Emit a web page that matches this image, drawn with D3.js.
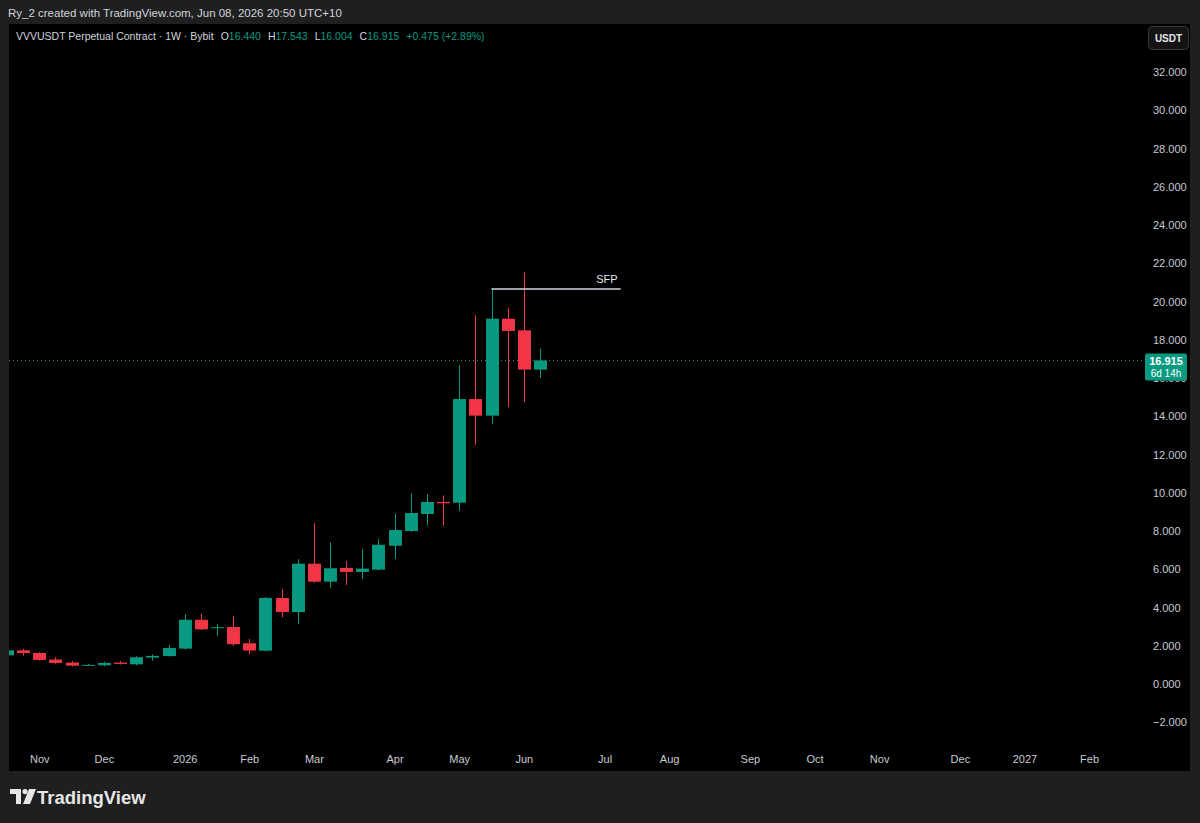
<!DOCTYPE html>
<html>
<head>
<meta charset="utf-8">
<script src="https://cdn.jsdelivr.net/npm/d3@7"></script>
<style>
  body { margin: 0; background: #1f1f1f; }
  svg { display: block; font-family: "Liberation Sans", "DejaVu Sans", sans-serif; }
</style>
</head>
<body>
<svg id="chart" width="1200" height="823"></svg>
<script>
// weekly candles, week start (Monday)
const weeks = [
  "2025-10-20", "2025-10-27", "2025-11-03", "2025-11-10", "2025-11-17", "2025-11-24",
  "2025-12-01", "2025-12-08", "2025-12-15", "2025-12-22", "2025-12-29", "2026-01-05",
  "2026-01-12", "2026-01-19", "2026-01-26", "2026-02-02", "2026-02-09", "2026-02-16",
  "2026-02-23", "2026-03-02", "2026-03-09", "2026-03-16", "2026-03-23", "2026-03-30",
  "2026-04-06", "2026-04-13", "2026-04-20", "2026-04-27", "2026-05-04", "2026-05-11",
  "2026-05-18", "2026-05-25", "2026-06-01", "2026-06-08"
];
const opens  = [1.50, 1.76, 1.62, 1.28, 1.12, 0.97, 0.98, 1.12, 1.03, 1.38, 1.46, 1.85,
                3.36, 2.92, 2.98, 2.13, 1.74, 4.50, 3.76, 6.29, 5.35, 6.07, 5.86, 5.98,
                7.23, 8.00, 8.89, 9.52, 9.48, 14.90, 14.03, 19.10, 18.49, 16.440];
const highs  = [1.85, 1.84, 1.66, 1.40, 1.19, 1.05, 1.17, 1.20, 1.45, 1.55, 2.04, 3.66,
                3.68, 3.14, 3.56, 2.35, 4.56, 4.95, 6.52, 8.40, 7.40, 6.43, 7.04, 7.58,
                8.89, 9.97, 9.93, 9.86, 16.68, 19.29, 20.65, 19.65, 21.54, 17.543];
const lows   = [1.45, 1.48, 1.22, 1.06, 0.92, 0.94, 0.92, 1.02, 0.98, 1.22, 1.44, 1.80,
                2.82, 2.52, 2.00, 1.54, 1.70, 3.49, 3.14, 5.30, 5.04, 5.18, 5.49, 5.95,
                6.54, 7.95, 8.31, 8.28, 9.06, 12.50, 13.60, 14.47, 14.73, 16.004];
const closes = [1.76, 1.62, 1.26, 1.10, 0.96, 1.00, 1.10, 1.05, 1.40, 1.47, 1.88, 3.36,
                2.86, 2.97, 2.08, 1.75, 4.50, 3.76, 6.29, 5.35, 6.05, 5.86, 6.03, 7.28,
                8.05, 8.94, 9.52, 9.45, 14.90, 14.03, 19.10, 18.46, 16.44, 16.915];

const priceTicks = [-2, 0, 2, 4, 6, 8, 10, 12, 14, 16, 18, 20, 22, 24, 26, 28, 30, 32];
const timeTickLabels = ["Nov", "Dec", "2026", "Feb", "Mar", "Apr", "May", "Jun", "Jul",
                        "Aug", "Sep", "Oct", "Nov", "Dec", "2027", "Feb"];
const timeTickDates  = ["2025-11-03", "2025-12-01", "2026-01-05", "2026-02-02", "2026-03-02",
                        "2026-04-06", "2026-05-04", "2026-06-01", "2026-07-06", "2026-08-03",
                        "2026-09-07", "2026-10-05", "2026-11-02", "2026-12-07", "2027-01-04",
                        "2027-02-01"];

const lastPrice = 16.915;
const sfpFrom = "2026-05-18", sfpTo = "2026-07-13", sfpLevel = 20.65;

const up = "#089981", down = "#f23645";
const parse = d3.timeParse("%Y-%m-%d");

const candles = weeks.map((w, i) => ({
  date: parse(w), o: opens[i], h: highs[i], l: lows[i], c: closes[i]
}));

const svg = d3.select("#chart");

// frame + panel
svg.append("rect").attr("width", 1200).attr("height", 823).attr("fill", "#1f1f1f");
svg.append("rect").attr("x", 9).attr("y", 24).attr("width", 1181).attr("height", 747).attr("fill", "#000");

const plot = { left: 9, right: 1145, top: 24, bottom: 771 };

// scales
const x = d3.scaleTime()
  .domain([parse("2025-11-03"), parse("2027-02-01")])
  .range([39.3, 39.3 + 65 * 16.15]);
const y = d3.scaleLinear().domain([0, 32]).range([684, 72]);

const barW = (x(parse("2026-01-12")) - x(parse("2026-01-05"))) * 0.8;

svg.append("clipPath").attr("id", "plotClip")
  .append("rect").attr("x", plot.left).attr("y", plot.top)
  .attr("width", plot.right - plot.left).attr("height", plot.bottom - plot.top);

const g = svg.append("g").attr("clip-path", "url(#plotClip)");

// last price dotted line
g.append("line")
  .attr("x1", plot.left).attr("x2", plot.right)
  .attr("y1", y(lastPrice)).attr("y2", y(lastPrice))
  .attr("stroke", up).attr("stroke-width", 1).attr("stroke-dasharray", "1,3");

// candles
const cg = g.selectAll("g.candle").data(candles).join("g").attr("class", "candle");
cg.append("line")
  .attr("x1", d => Math.round(x(d.date)) + 0.5).attr("x2", d => Math.round(x(d.date)) + 0.5)
  .attr("y1", d => y(d.h)).attr("y2", d => y(d.l))
  .attr("stroke", d => d.c >= d.o ? up : down).attr("stroke-width", 1);
cg.append("rect")
  .attr("x", d => Math.round(x(d.date)) + 0.5 - barW / 2)
  .attr("width", barW)
  .attr("y", d => y(Math.max(d.o, d.c)))
  .attr("height", d => Math.max(1, Math.abs(y(d.o) - y(d.c))))
  .attr("fill", d => d.c >= d.o ? up : down);

// SFP annotation
g.append("line")
  .attr("x1", x(parse(sfpFrom))).attr("x2", x(parse(sfpTo)))
  .attr("y1", y(sfpLevel)).attr("y2", y(sfpLevel))
  .attr("stroke", "#d1d4dc").attr("stroke-width", 1.5);
g.append("text")
  .attr("x", x(parse(sfpTo)) - 3).attr("y", y(sfpLevel) - 6)
  .attr("text-anchor", "end").attr("fill", "#e6e6e6")
  .style("font-size", "11px").text("SFP");

// price axis
const yAxis = d3.axisRight(y).tickValues(priceTicks).tickSize(0).tickPadding(0)
  .tickFormat(d3.format(".3f"));
const ya = svg.append("g").attr("transform", "translate(1153,0)").call(yAxis);
ya.select(".domain").remove();
ya.selectAll("text").attr("fill", "#c8cad0").style("font-size", "11px")
  .style("font-family", "Liberation Sans, sans-serif").attr("text-anchor", "start");

// time axis
const xAxis = d3.axisBottom(x).tickValues(timeTickDates.map(parse)).tickSize(0).tickPadding(0)
  .tickFormat((d, i) => timeTickLabels[i]);
const xa = svg.append("g").attr("transform", "translate(0,755)").call(xAxis);
xa.select(".domain").remove();
xa.selectAll("text").attr("fill", "#c8cad0").style("font-size", "11px")
  .style("font-family", "Liberation Sans, sans-serif");

// last price label (covers the 16.000 tick, as in TradingView)
const lp = svg.append("g");
lp.append("rect").attr("x", 1145).attr("y", y(lastPrice) - 7).attr("width", 42).attr("height", 27)
  .attr("rx", 2).attr("fill", up);
lp.append("text").attr("x", 1166).attr("y", y(lastPrice) + 4).attr("text-anchor", "middle")
  .attr("fill", "#fff").style("font-size", "11px").style("font-weight", "bold").text("16.915");
lp.append("text").attr("x", 1166).attr("y", y(lastPrice) + 16).attr("text-anchor", "middle")
  .attr("fill", "#fff").style("font-size", "10px").text("6d 14h");

// USDT button
svg.append("rect").attr("x", 1148.5).attr("y", 26.5).attr("width", 40).attr("height", 23)
  .attr("rx", 4).attr("fill", "#141414").attr("stroke", "#3a3a3a");
svg.append("text").attr("x", 1168.5).attr("y", 42).attr("text-anchor", "middle")
  .attr("fill", "#e6e6e6").style("font-size", "10px").style("font-weight", "bold").text("USDT");

// top caption
svg.append("text").attr("x", 8).attr("y", 17).attr("fill", "#d1d4dc")
  .style("font-size", "11.5px").text("Ry_2 created with TradingView.com, Jun 08, 2026 20:50 UTC+10");

// legend line
const leg = svg.append("text").attr("x", 16).attr("y", 40).style("font-size", "10.5px");
leg.append("tspan").attr("fill", "#d1d4dc").text("VVVUSDT Perpetual Contract · 1W · Bybit");
[["O", "16.440"], ["H", "17.543"], ["L", "16.004"], ["C", "16.915"]].forEach(([k, v]) => {
  leg.append("tspan").attr("dx", 7).attr("fill", "#d1d4dc").text(k);
  leg.append("tspan").attr("fill", up).text(v);
});
leg.append("tspan").attr("dx", 7).attr("fill", up).text("+0.475 (+2.89%)");

// TradingView logo
const logo = svg.append("g").attr("transform", "translate(10,789)");
logo.append("path").attr("d", "M0,0 H11 V15 H6 V5 H0 Z").attr("fill", "#e6e6e6");
logo.append("circle").attr("cx", 15).attr("cy", 2.6).attr("r", 2.6).attr("fill", "#e6e6e6");
logo.append("path").attr("d", "M19,0 H26 L20,15 H13 Z").attr("fill", "#e6e6e6");
svg.append("text").attr("x", 37).attr("y", 804).attr("fill", "#e6e6e6")
  .style("font-size", "18.5px").style("font-weight", "bold").text("TradingView");
</script>
</body>
</html>
